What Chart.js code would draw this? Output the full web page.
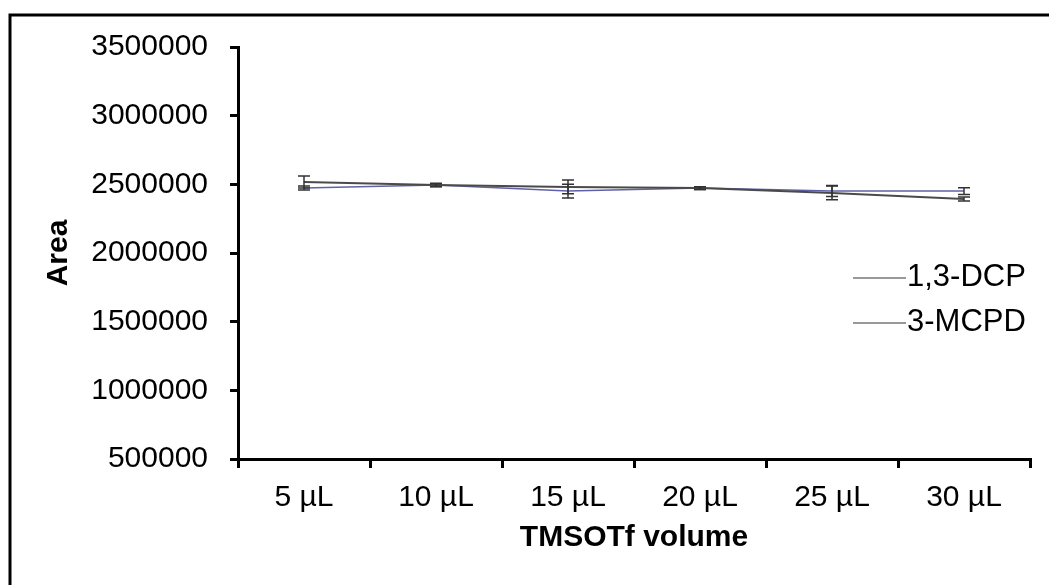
<!DOCTYPE html>
<html>
<head>
<meta charset="utf-8">
<script src="https://cdn.jsdelivr.net/npm/chart.js@4.4.1/dist/chart.umd.min.js"></script>
<style>
  html, body { margin: 0; padding: 0; background: #fff; }
  #wrap { width: 1049px; height: 585px; position: relative; }
</style>
</head>
<body>
<div id="wrap"><canvas id="c" width="1049" height="585"></canvas></div>
<script>
const categories = ['5 µL', '10 µL', '15 µL', '20 µL', '25 µL', '30 µL'];
const seriesNames = ['1,3-DCP', '3-MCPD'];
const dcpValues = [2517000, 2495000, 2481000, 2473000, 2437000, 2393000];
const dcpErrors = [44000, 12000, 50000, 10000, 50000, 15000];
const mcpdValues = [2473000, 2495000, 2451000, 2473000, 2451000, 2451000];
const mcpdErrors = [15000, 10000, 50000, 10000, 40000, 25000];
const yTicks = [500000, 1000000, 1500000, 2000000, 2500000, 3000000, 3500000];

const FONT = 'Liberation Sans, Arial, sans-serif';

const errorBarPlugin = {
  id: 'errorBars',
  afterDatasetsDraw(chart) {
    const ctx = chart.ctx;
    const ys = chart.scales.y;
    chart.data.datasets.forEach((ds, di) => {
      const meta = chart.getDatasetMeta(di);
      ctx.save();
      ctx.strokeStyle = '#333';
      ctx.lineWidth = 1.5;
      meta.data.forEach((pt, i) => {
        const v = ds.data[i], e = ds.errors[i];
        const x = pt.x;
        const yt = ys.getPixelForValue(v + e);
        const yb = ys.getPixelForValue(v - e);
        ctx.beginPath();
        ctx.moveTo(x, yt); ctx.lineTo(x, yb);
        ctx.moveTo(x - 6, yt); ctx.lineTo(x + 6, yt);
        ctx.moveTo(x - 6, yb); ctx.lineTo(x + 6, yb);
        ctx.stroke();
      });
      ctx.restore();
    });
  }
};

const frameLegendPlugin = {
  id: 'frameLegend',
  beforeDraw(chart) {
    const ctx = chart.ctx;
    ctx.save();
    ctx.fillStyle = '#fff';
    ctx.fillRect(0, 0, chart.width, chart.height);
    ctx.strokeStyle = '#000';
    ctx.lineWidth = 3;
    ctx.beginPath();
    ctx.moveTo(10, 590); ctx.lineTo(10, 15); ctx.lineTo(1060, 15);
    ctx.stroke();
    ctx.restore();
  },
  afterDraw(chart) {
    const ctx = chart.ctx;
    ctx.save();
    ctx.font = '31px ' + FONT;
    ctx.textBaseline = 'middle';
    ctx.fillStyle = '#000';
    const rows = [277, 322];
    chart.data.datasets.forEach((ds, i) => {
      const y = rows[i];
      ctx.strokeStyle = '#777';
      ctx.lineWidth = 1.5;
      ctx.beginPath();
      ctx.moveTo(853, y + 1); ctx.lineTo(906, y + 1);
      ctx.stroke();
      ctx.fillText(ds.label, 907, y);
    });
    ctx.restore();
  }
};

new Chart(document.getElementById('c'), {
  type: 'line',
  data: {
    labels: categories,
    datasets: [
      { label: seriesNames[0], data: dcpValues, errors: dcpErrors, borderColor: '#4a4a4a', borderWidth: 2, pointRadius: 0, tension: 0 },
      { label: seriesNames[1], data: mcpdValues, errors: mcpdErrors, borderColor: '#5f62a8', borderWidth: 1.5, pointRadius: 0, tension: 0 }
    ]
  },
  options: {
    responsive: false,
    animation: false,
    devicePixelRatio: 1,
    layout: { padding: { left: 0, right: 19, top: 47, bottom: 0 } },
    plugins: { legend: { display: false }, tooltip: { enabled: false } },
    scales: {
      x: {
        offset: true,
        grid: { offset: true, drawOnChartArea: false, drawTicks: true, tickLength: 9, color: '#000', lineWidth: 3 },
        border: { color: '#000', width: 3 },
        ticks: { color: '#000', font: { size: 30, family: FONT }, padding: 12, maxRotation: 0 },
        title: { display: true, text: 'TMSOTf volume', color: '#000', font: { size: 30, weight: 'bold', family: FONT }, padding: { top: 0, bottom: 29 } },
        afterFit(s) { s.height = 126; }
      },
      y: {
        min: 500000, max: 3500000,
        afterBuildTicks(s) { s.ticks = yTicks.map(v => ({ value: v })); },
        grid: { drawOnChartArea: false, drawTicks: true, tickLength: 8, color: '#000', lineWidth: 3 },
        border: { color: '#000', width: 3 },
        ticks: { color: '#000', font: { size: 30, family: FONT }, padding: 22, callback: v => String(v) },
        title: { display: true, text: 'Area', color: '#000', font: { size: 30, weight: 'bold', family: FONT }, padding: { top: 41, bottom: 0 } },
        afterFit(s) { s.width = 238; }
      }
    }
  },
  plugins: [frameLegendPlugin, errorBarPlugin]
});
</script>
</body>
</html>
